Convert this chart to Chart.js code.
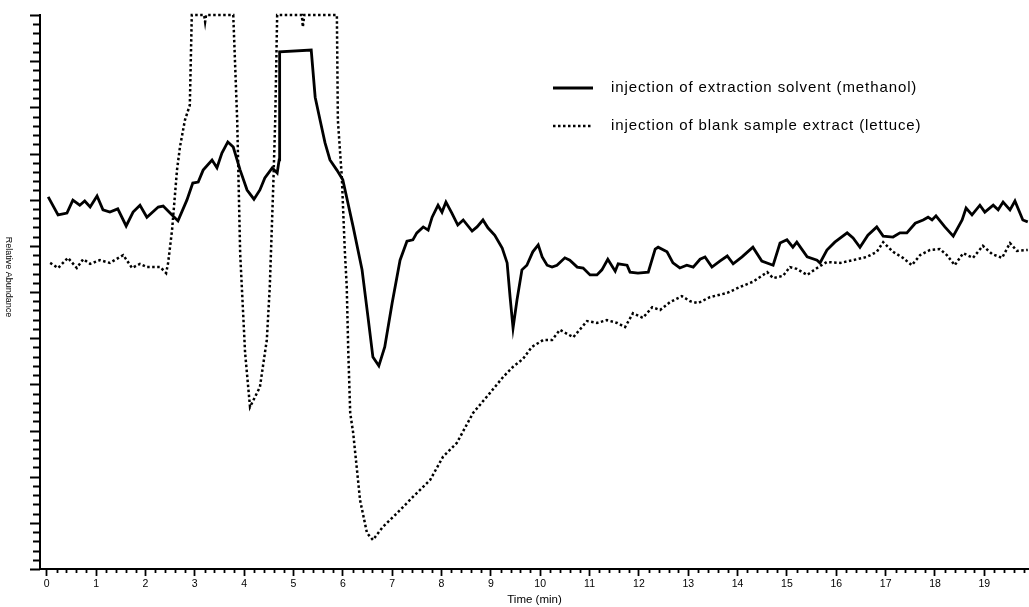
<!DOCTYPE html>
<html>
<head>
<meta charset="utf-8">
<script src="https://cdn.jsdelivr.net/npm/chart.js@4.4.1/dist/chart.umd.min.js"></script>
<style>
  html, body { margin: 0; padding: 0; background: #fff; }
  #wrap { width: 1029px; height: 607px; }
</style>
</head>
<body>
<div id="wrap"><canvas id="chromChart"></canvas></div>
<script>
// methanol injection (solid line)
const methanolTime = [0.03, 0.23, 0.41, 0.53, 0.67, 0.77, 0.88, 1.02, 1.14, 1.28, 1.44, 1.61, 1.75, 1.89, 2.03, 2.26, 2.36, 2.50, 2.66, 2.84,
    2.96, 3.07, 3.17, 3.35, 3.45, 3.55, 3.67, 3.78, 3.92, 4.06, 4.20, 4.32, 4.42, 4.57, 4.67, 4.71, 4.72, 5.36, 5.44, 5.54,
    5.64, 5.74, 5.88, 6.00, 6.21, 6.39, 6.51, 6.61, 6.73, 6.85, 7.00, 7.16, 7.30, 7.42, 7.50, 7.63, 7.73, 7.81, 7.93, 8.01,
    8.09, 8.21, 8.33, 8.44, 8.62, 8.72, 8.84, 8.94, 9.08, 9.23, 9.33, 9.39, 9.45, 9.53, 9.63, 9.73, 9.85, 9.96, 10.04, 10.14,
    10.24, 10.34, 10.50, 10.60, 10.75, 10.87, 11.01, 11.15, 11.25, 11.37, 11.52, 11.58, 11.76, 11.82, 11.98, 12.19, 12.33, 12.39, 12.57, 12.69,
    12.83, 12.97, 13.10, 13.24, 13.34, 13.48, 13.64, 13.79, 13.91, 14.09, 14.31, 14.49, 14.72, 14.86, 15.00, 15.12, 15.20, 15.41, 15.61, 15.67,
    15.81, 15.97, 16.22, 16.34, 16.48, 16.64, 16.82, 16.95, 17.15, 17.29, 17.43, 17.60, 17.76, 17.86, 17.94, 18.02, 18.20, 18.37, 18.55, 18.63,
    18.75, 18.91, 19.01, 19.18, 19.28, 19.38, 19.52, 19.62, 19.78, 19.88];
const methanolAbundance = [80.6, 76.7, 77.1, 79.9, 78.8, 79.7, 78.4, 80.8, 77.8, 77.3, 78.0, 74.3, 77.3, 78.8, 76.2, 78.4, 78.6, 77.1, 75.4, 79.9,
    83.6, 83.8, 86.4, 88.6, 86.9, 90.1, 92.5, 91.4, 86.4, 82.1, 80.1, 82.1, 84.7, 86.9, 85.8, 88.6, 112.0, 112.4, 102.2, 97.2,
    92.3, 88.6, 86.4, 84.3, 74.1, 64.8, 54.6, 45.9, 44.0, 48.1, 57.6, 66.9, 71.0, 71.3, 72.8, 74.1, 73.4, 76.2, 78.8, 77.3,
    79.5, 77.1, 74.5, 75.6, 73.2, 74.1, 75.6, 73.9, 72.3, 69.5, 66.3, 58.9, 52.2, 58.3, 64.8, 65.8, 68.7, 70.2, 67.6, 65.8,
    65.4, 65.8, 67.4, 66.9, 65.4, 65.2, 63.7, 63.7, 64.8, 67.1, 64.5, 66.1, 65.8, 64.3, 64.1, 64.3, 69.3, 69.7, 68.7, 66.3,
    65.2, 65.8, 65.4, 67.1, 67.6, 65.4, 66.7, 67.8, 66.1, 67.6, 69.7, 66.7, 65.8, 70.6, 71.3, 69.7, 70.8, 67.6, 66.9, 66.3,
    69.1, 70.8, 72.8, 71.7, 69.7, 72.3, 74.1, 72.1, 71.9, 72.8, 72.8, 74.9, 75.6, 76.2, 75.6, 76.5, 74.1, 72.1, 75.6, 78.2,
    76.7, 78.8, 77.3, 78.8, 77.8, 79.5, 77.8, 79.7, 75.6, 75.2];

// blank lettuce extract (dotted line)
const lettuceTime = [0.07, 0.23, 0.43, 0.61, 0.74, 0.88, 1.08, 1.28, 1.55, 1.73, 1.89, 2.03, 2.30, 2.42, 2.46, 2.54, 2.64, 2.70, 2.80, 2.90,
    2.94, 3.19, 3.21, 3.23, 3.78, 3.86, 3.92, 4.02, 4.12, 4.32, 4.46, 4.52, 4.59, 4.63, 4.67, 5.17, 5.19, 5.22, 5.88, 5.90,
    5.98, 6.04, 6.08, 6.11, 6.15, 6.21, 6.35, 6.49, 6.61, 6.81, 7.10, 7.42, 7.77, 8.03, 8.31, 8.64, 8.98, 9.25, 9.45, 9.65,
    9.83, 10.06, 10.24, 10.40, 10.67, 10.95, 11.15, 11.35, 11.56, 11.72, 11.88, 12.08, 12.27, 12.43, 12.63, 12.87, 13.04, 13.20, 13.44, 13.79,
    14.05, 14.31, 14.60, 14.72, 14.92, 15.06, 15.20, 15.41, 15.61, 15.81, 16.08, 16.34, 16.62, 16.82, 16.95, 17.15, 17.35, 17.53, 17.70, 17.90,
    18.10, 18.24, 18.40, 18.57, 18.77, 18.97, 19.16, 19.36, 19.52, 19.66, 19.88];
const lettuceAbundance = [66.3, 65.2, 67.4, 65.2, 67.1, 66.1, 66.9, 66.3, 68.0, 65.2, 66.1, 65.4, 65.4, 64.1, 66.3, 73.4, 86.4, 91.4, 97.2, 100.5,
    120, 120, 118.5, 120, 120, 97.2, 68.4, 46.8, 35.1, 39.4, 49.6, 61.1, 82.7, 97.2, 120, 120, 117.4, 120, 120, 97.2,
    84.9, 69.1, 61.1, 47.4, 33.8, 29.5, 14.9, 7.8, 6.3, 9.1, 12.1, 15.6, 19.3, 24.3, 27.3, 33.8, 38.1, 41.6, 43.8, 45.5,
    48.1, 49.6, 49.6, 51.8, 50.2, 53.7, 53.3, 53.9, 53.3, 52.4, 55.4, 54.4, 56.7, 56.1, 57.8, 59.1, 58.0, 57.6, 58.9, 59.8,
    61.1, 62.2, 64.3, 63.0, 63.5, 65.4, 65.0, 63.7, 65.2, 66.5, 66.3, 66.9, 67.6, 68.7, 70.8, 68.7, 67.4, 65.8, 68.0, 69.1,
    69.3, 68.0, 65.8, 68.4, 67.4, 70.0, 68.2, 67.4, 70.6, 68.9, 69.1];

const timeLabels = [0, 1, 2, 3, 4, 5, 6, 7, 8, 9, 10, 11, 12, 13, 14, 15, 16, 17, 18, 19];
const seriesNames = ['injection of extraction solvent (methanol)', 'injection of blank sample extract (lettuce)'];

const FONT = '"Liberation Sans", Arial, sans-serif';

function toPoints(xs, ys) {
    return xs.map((x, i) => ({ x: x, y: ys[i] }));
}

// minor/major axis ticks, rotated y title and legend
const decorPlugin = {
    id: 'decor',
    afterDraw(chart) {
        const ctx = chart.ctx;
        const xs = chart.scales.x;
        const ys = chart.scales.y;
        const area = chart.chartArea;
        ctx.save();
        ctx.strokeStyle = '#000';
        ctx.lineWidth = 1.8;

        // x minor ticks every 0.2 min
        ctx.beginPath();
        for (let i = 1; i < 100; i++) {
            if (i % 5 === 0) continue;
            const px = Math.round(xs.getPixelForValue(i * 0.2)) + 0.5;
            if (px > area.right) break;
            ctx.moveTo(px, area.bottom);
            ctx.lineTo(px, area.bottom + 4);
        }
        ctx.stroke();

        // y ticks every 2, longer every 10
        ctx.beginPath();
        for (let v = 0; v <= 120; v += 2) {
            const py = Math.round(ys.getPixelForValue(v)) + 0.5;
            const len = v % 10 === 0 ? 10 : 7;
            ctx.moveTo(area.left - len, py);
            ctx.lineTo(area.left, py);
        }
        ctx.stroke();

        // y axis title, reads top to bottom
        ctx.save();
        ctx.translate(8, 277);
        ctx.rotate(Math.PI / 2);
        ctx.font = '9px ' + FONT;
        ctx.fillStyle = '#000';
        ctx.textAlign = 'center';
        ctx.textBaseline = 'middle';
        ctx.fillText('Relative Abundance', 0, 0);
        ctx.restore();

        // legend
        const rows = [88, 126];
        chart.data.datasets.forEach((ds, i) => {
            const y = rows[i];
            ctx.save();
            ctx.strokeStyle = ds.borderColor;
            ctx.lineWidth = ds.borderWidth;
            ctx.setLineDash(ds.borderDash || []);
            ctx.beginPath();
            ctx.moveTo(553, y);
            ctx.lineTo(i === 0 ? 593 : 591, y);
            ctx.stroke();
            ctx.restore();
            ctx.save();
            ctx.font = '15px ' + FONT;
            ctx.letterSpacing = '0.9px';
            ctx.fillStyle = '#000';
            ctx.textAlign = 'left';
            ctx.textBaseline = 'middle';
            ctx.fillText(ds.label, 611, y);
            ctx.restore();
        });
        ctx.restore();
    }
};

const chromChart = new Chart(document.getElementById('chromChart').getContext('2d'), {
    type: 'line',
    data: {
        datasets: [{
            label: seriesNames[0],
            data: toPoints(methanolTime, methanolAbundance),
            borderColor: '#000',
            borderWidth: 2.8,
            pointRadius: 0,
            tension: 0,
            clip: 4
        }, {
            label: seriesNames[1],
            data: toPoints(lettuceTime, lettuceAbundance),
            borderColor: '#000',
            borderWidth: 2.5,
            borderDash: [2.5, 2.5],
            borderCapStyle: 'butt',
            pointRadius: 0,
            tension: 0,
            clip: 4
        }]
    },
    options: {
        responsive: true,
        maintainAspectRatio: false,
        animation: false,
        layout: { padding: { top: 15, right: 0, left: 0, bottom: 0 } },
        plugins: {
            legend: { display: false },
            tooltip: { enabled: false }
        },
        scales: {
            x: {
                type: 'linear',
                min: -0.136,
                max: 19.905,
                afterBuildTicks: s => { s.ticks = timeLabels.map(v => ({ value: v })); },
                afterFit: s => { s.height = 38; },
                ticks: {
                    color: '#000',
                    font: { family: FONT, size: 10.5 },
                    padding: 2,
                    maxRotation: 0,
                    autoSkip: false
                },
                grid: {
                    drawOnChartArea: false,
                    drawTicks: true,
                    tickLength: 7,
                    tickColor: '#000',
                    tickWidth: 1.8
                },
                border: { display: true, color: '#000', width: 2 },
                title: {
                    display: true,
                    text: 'Time (min)',
                    color: '#000',
                    font: { family: FONT, size: 11.5 },
                    padding: { top: 0, bottom: 0 }
                }
            },
            y: {
                type: 'linear',
                min: 0,
                max: 120,
                afterFit: s => { s.width = 40; },
                ticks: { display: false },
                grid: { display: false },
                border: { display: true, color: '#000', width: 2 }
            }
        }
    },
    plugins: [decorPlugin]
});
</script>
</body>
</html>
